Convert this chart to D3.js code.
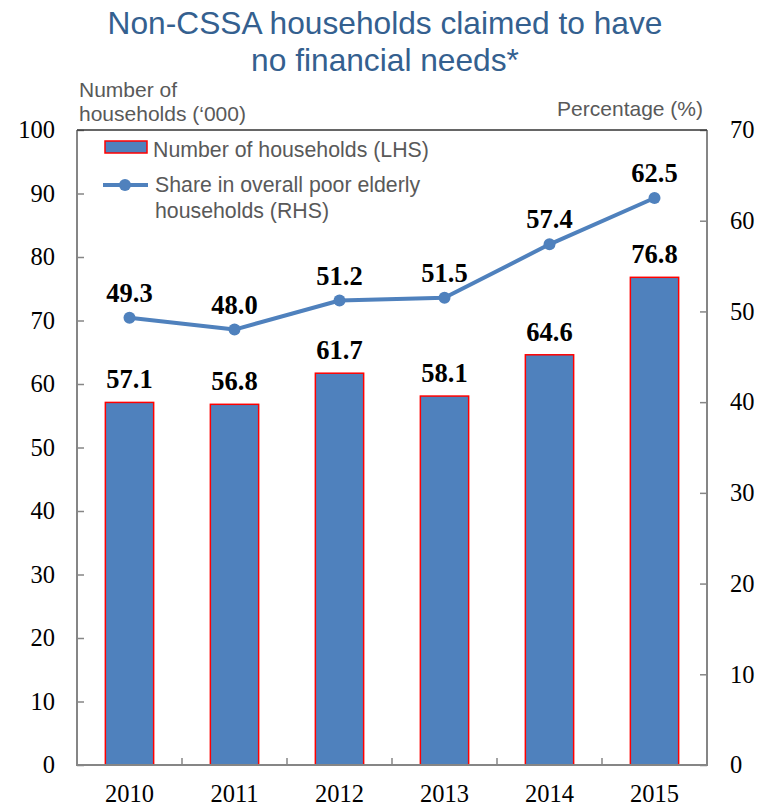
<!DOCTYPE html>
<html>
<head>
<meta charset="utf-8">
<script src="https://cdn.jsdelivr.net/npm/d3@7/dist/d3.min.js"></script>
<style>
  body { margin: 0; background: #fff; }
  svg { display: block; }
</style>
</head>
<body>
<svg id="chart" width="759" height="806"></svg>
<script>
const years = ["2010", "2011", "2012", "2013", "2014", "2015"];
const households = [57.1, 56.8, 61.7, 58.1, 64.6, 76.8];   // '000, left axis
const sharePct = [49.3, 48.0, 51.2, 51.5, 57.4, 62.5];      // %, right axis
const leftTicks = [0, 10, 20, 30, 40, 50, 60, 70, 80, 90, 100];
const rightTicks = [0, 10, 20, 30, 40, 50, 60, 70];

const svg = d3.select("#chart");
const m = { left: 77, right: 707, top: 130, bottom: 765 };
const blue = "#4f81bd";
const serif = "'Liberation Serif', 'Times New Roman', serif";
const sans = "'Liberation Sans', Arial, sans-serif";

const x = d3.scaleBand().domain(years).range([m.left, m.right]).paddingInner(0.54).paddingOuter(0.27);
const xCenter = d => x(d) + x.bandwidth() / 2;
const yL = d3.scaleLinear().domain([0, 100]).range([m.bottom, m.top]);
const yR = d3.scaleLinear().domain([0, 70]).range([m.bottom, m.top]);

// Title
const title = svg.append("g").attr("font-family", sans).attr("font-size", 31.7)
  .attr("fill", "#34608f").attr("text-anchor", "middle");
title.append("text").attr("x", 385).attr("y", 34).text("Non-CSSA households claimed to have");
title.append("text").attr("x", 385).attr("y", 71).text("no financial needs*");

// Axis titles
const axTitle = svg.append("g").attr("font-family", sans).attr("font-size", 21).attr("fill", "#595959");
axTitle.append("text").attr("x", 79).attr("y", 97).text("Number of");
axTitle.append("text").attr("x", 79).attr("y", 121).text("households (\u2018000)");
axTitle.append("text").attr("x", 703).attr("y", 116).attr("text-anchor", "end").text("Percentage (%)");

// Bars
svg.append("g").selectAll("rect").data(years).join("rect")
  .attr("x", d => x(d)).attr("width", x.bandwidth())
  .attr("y", (d, i) => yL(households[i]))
  .attr("height", (d, i) => yL(0) - yL(households[i]))
  .attr("fill", blue).attr("stroke", "#ff0000").attr("stroke-width", 1.5);

// Axes
const axisColor = "#868686";
const gl = svg.append("g").attr("transform", `translate(${m.left},0)`)
  .call(d3.axisLeft(yL).tickValues(leftTicks).tickSize(-7).tickFormat(d3.format("d")));
const gr = svg.append("g").attr("transform", `translate(${m.right},0)`)
  .call(d3.axisRight(yR).tickValues(rightTicks).tickSize(-7).tickFormat(d3.format("d")));
[gl, gr].forEach(g => {
  g.select(".domain").remove();
  g.selectAll(".tick line").attr("stroke", axisColor).attr("stroke-width", 1.5);
  g.selectAll(".tick text").attr("font-family", serif).attr("font-size", 24.5).attr("fill", "#000");
});
gl.selectAll(".tick text").attr("x", -22);
gr.selectAll(".tick text").attr("x", 23);

const gx = svg.append("g").attr("transform", `translate(0,${m.bottom})`)
  .call(d3.axisBottom(x).tickSize(0));
gx.select(".domain").remove();
gx.selectAll(".tick text").attr("font-family", serif).attr("font-size", 24.5).attr("fill", "#000")
  .attr("dy", null).attr("y", 37);

// Category separators on the bottom axis
const step = x.step();
svg.append("g").selectAll("line").data(years.slice(1)).join("line")
  .attr("x1", d => x(d) - (step - x.bandwidth()) / 2).attr("x2", d => x(d) - (step - x.bandwidth()) / 2)
  .attr("y1", m.bottom).attr("y2", m.bottom - 7)
  .attr("stroke", axisColor).attr("stroke-width", 1.5);

// Frame
svg.append("line").attr("x1", m.left).attr("x2", m.left).attr("y1", m.top).attr("y2", m.bottom)
  .attr("stroke", axisColor).attr("stroke-width", 2);
svg.append("line").attr("x1", m.right).attr("x2", m.right).attr("y1", m.top).attr("y2", m.bottom)
  .attr("stroke", axisColor).attr("stroke-width", 2);
svg.append("line").attr("x1", m.left - 1).attr("x2", m.right + 1).attr("y1", m.bottom).attr("y2", m.bottom)
  .attr("stroke", axisColor).attr("stroke-width", 2);
svg.append("line").attr("x1", m.left).attr("x2", m.right).attr("y1", m.top).attr("y2", m.top)
  .attr("stroke", "#333").attr("stroke-width", 1.5);

// Line series
const line = d3.line().x((d, i) => xCenter(years[i])).y(d => yR(d));
svg.append("path").datum(sharePct).attr("d", line)
  .attr("fill", "none").attr("stroke", blue).attr("stroke-width", 4).attr("stroke-linejoin", "round");
svg.append("g").selectAll("circle").data(sharePct).join("circle")
  .attr("cx", (d, i) => xCenter(years[i])).attr("cy", d => yR(d)).attr("r", 6).attr("fill", blue);

// Value labels
const lab = svg.append("g").attr("font-family", serif).attr("font-weight", "bold")
  .attr("font-size", 26.5).attr("text-anchor", "middle").attr("fill", "#000");
lab.selectAll("text.bar").data(households).join("text").attr("class", "bar")
  .attr("x", (d, i) => xCenter(years[i])).attr("y", d => yL(d) - 14)
  .text(d => d.toFixed(1));
lab.selectAll("text.pt").data(sharePct).join("text").attr("class", "pt")
  .attr("x", (d, i) => xCenter(years[i])).attr("y", d => yR(d) - 16)
  .text(d => d.toFixed(1));

// Legend
const lg = svg.append("g").attr("font-family", sans).attr("font-size", 21.3).attr("fill", "#595959");
lg.append("rect").attr("x", 105).attr("y", 141).attr("width", 42).attr("height", 12)
  .attr("fill", blue).attr("stroke", "#ff0000").attr("stroke-width", 1.5);
lg.append("text").attr("x", 153).attr("y", 157).text("Number of households (LHS)");
lg.append("line").attr("x1", 103).attr("x2", 148).attr("y1", 185).attr("y2", 185)
  .attr("stroke", blue).attr("stroke-width", 4);
lg.append("circle").attr("cx", 125).attr("cy", 185).attr("r", 6).attr("fill", blue);
lg.append("text").attr("x", 155).attr("y", 192).text("Share in overall poor elderly");
lg.append("text").attr("x", 155).attr("y", 218).text("households (RHS)");
</script>
</body>
</html>
